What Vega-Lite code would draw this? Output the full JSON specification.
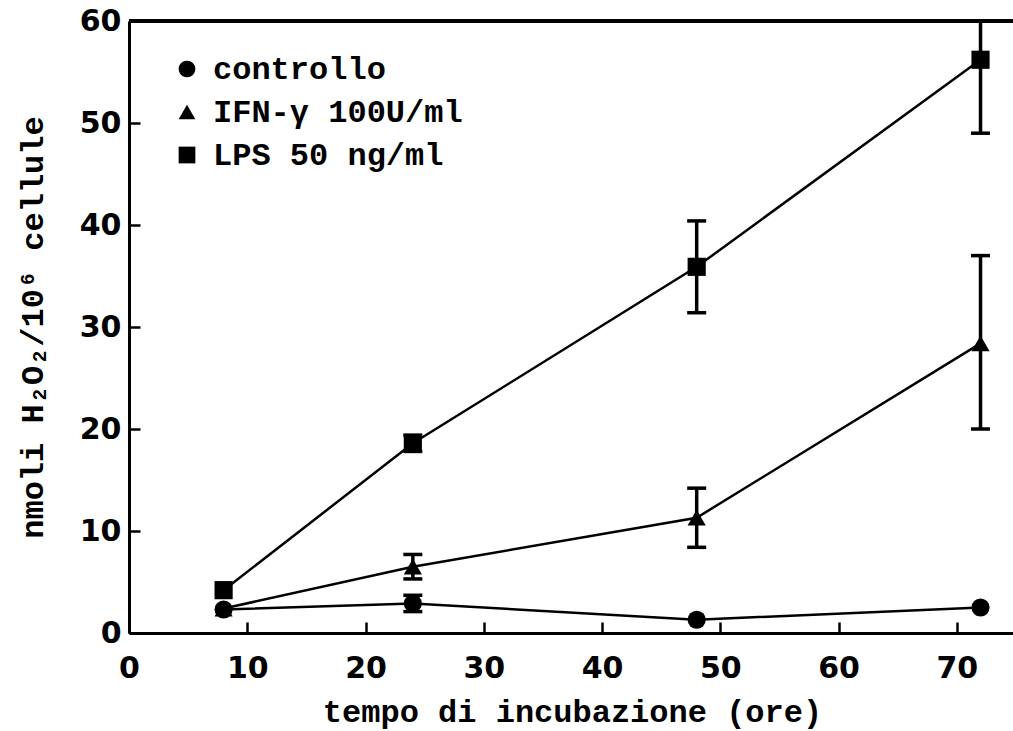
{
  "$schema": "https://vega.github.io/schema/vega-lite/v6.json",
  "width": 887,
  "height": 612,
  "autosize": {"type": "none"},
  "padding": {"left": 129, "top": 21, "right": 0, "bottom": 98},
  "background": "white",
  "config": {"view": {"stroke": null}},
  "data": {
    "values": [
      {"series": "IFN-γ 100U/ml", "t": 8, "y": 2.4},
      {"series": "IFN-γ 100U/ml", "t": 24, "y": 6.5, "lo": 5.3, "hi": 7.7},
      {"series": "IFN-γ 100U/ml", "t": 48, "y": 11.3, "lo": 8.4, "hi": 14.2},
      {"series": "IFN-γ 100U/ml", "t": 72, "y": 28.4, "lo": 20.0, "hi": 37.0},
      {"series": "LPS 50 ng/ml", "t": 8, "y": 4.2},
      {"series": "LPS 50 ng/ml", "t": 24, "y": 18.6, "lo": 17.8, "hi": 19.4},
      {"series": "LPS 50 ng/ml", "t": 48, "y": 35.9, "lo": 31.4, "hi": 40.4},
      {"series": "LPS 50 ng/ml", "t": 72, "y": 56.2, "lo": 49.0, "hi": 63.4},
      {"series": "controllo", "t": 8, "y": 2.3},
      {"series": "controllo", "t": 24, "y": 2.9, "lo": 2.1, "hi": 3.7},
      {"series": "controllo", "t": 48, "y": 1.3},
      {"series": "controllo", "t": 72, "y": 2.5}
    ]
  },
  "layer": [
    {
      "mark": {"type": "rule", "color": "black", "strokeWidth": 3},
      "encoding": {
        "y": {"datum": 60, "type": "quantitative", "scale": {"domain": [0, 60], "nice": false}, "title": "nmoli H₂O₂/10⁶ cellule"}
      }
    },
    {
      "mark": {"type": "line", "color": "black", "strokeWidth": 2.5},
      "encoding": {
        "x": {
          "field": "t", "type": "quantitative",
          "scale": {"domain": [0, 75], "nice": false},
          "axis": {
            "values": [0, 10, 20, 30, 40, 50, 60, 70],
            "tickSize": -11, "tickWidth": 2.5, "tickColor": "black",
            "domainWidth": 3, "domainColor": "black",
            "grid": false,
            "labelFont": "DejaVu Sans", "labelFontWeight": "bold", "labelFontSize": 30, "labelColor": "black",
            "labelPadding": 31, "labelFlush": false,
            "titleFont": "Liberation Mono", "titleFontSize": 32, "titleFontWeight": "bold", "titleColor": "black",
            "titleX": 443, "titleY": 88, "titleBaseline": "alphabetic", "titleAlign": "center"
          },
          "title": "tempo di incubazione (ore)"
        },
        "y": {
          "field": "y", "type": "quantitative",
          "scale": {"domain": [0, 60], "nice": false},
          "axis": {
            "values": [0, 10, 20, 30, 40, 50, 60],
            "tickSize": -11, "tickWidth": 2.5, "tickColor": "black",
            "domainWidth": 3, "domainColor": "black",
            "grid": false,
            "labelFont": "DejaVu Sans", "labelFontWeight": "bold", "labelFontSize": 30, "labelColor": "black",
            "labelPadding": 19, "labelFlush": false,
            "titleFont": "Liberation Mono", "titleFontSize": 32, "titleFontWeight": "bold", "titleColor": "black",
            "titleX": -87, "titleY": 306, "titleAngle": -90, "titleBaseline": "alphabetic", "titleAlign": "center"
          },
          "title": "nmoli H₂O₂/10⁶ cellule"
        },
        "detail": {"field": "series"}
      }
    },
    {
      "transform": [{"filter": "isValid(datum.lo)"}],
      "mark": {
        "type": "errorbar",
        "clip": true,
        "color": "black",
        "opacity": 1,
        "rule": {"color": "black", "strokeWidth": 3.5, "opacity": 1},
        "ticks": {"color": "black", "size": 19, "thickness": 3.5, "opacity": 1}
      },
      "encoding": {
        "x": {"field": "t", "type": "quantitative", "scale": {"domain": [0, 75], "nice": false}, "title": "tempo di incubazione (ore)"},
        "y": {"field": "lo", "type": "quantitative", "scale": {"domain": [0, 60], "nice": false}, "title": "nmoli H₂O₂/10⁶ cellule"},
        "y2": {"field": "hi"}
      }
    },
    {
      "mark": {"type": "point", "filled": true, "color": "black", "opacity": 1, "size": 330},
      "encoding": {
        "x": {"field": "t", "type": "quantitative", "scale": {"domain": [0, 75], "nice": false}, "title": "tempo di incubazione (ore)"},
        "y": {"field": "y", "type": "quantitative", "scale": {"domain": [0, 60], "nice": false}, "title": "nmoli H₂O₂/10⁶ cellule"},
        "shape": {
          "field": "series", "type": "nominal",
          "scale": {"domain": ["controllo", "IFN-γ 100U/ml", "LPS 50 ng/ml"], "range": ["circle", "triangle-up", "square"]},
          "legend": {
            "orient": "none", "legendX": 42, "legendY": 32,
            "title": null,
            "labelFont": "Liberation Mono", "labelFontSize": 32, "labelFontWeight": "bold", "labelColor": "black",
            "labelLimit": 0,
            "symbolSize": 280, "symbolFillColor": "black", "symbolStrokeColor": "black", "symbolStrokeWidth": 0,
            "rowPadding": 11, "labelOffset": 10
          }
        }
      }
    }
  ]
}
